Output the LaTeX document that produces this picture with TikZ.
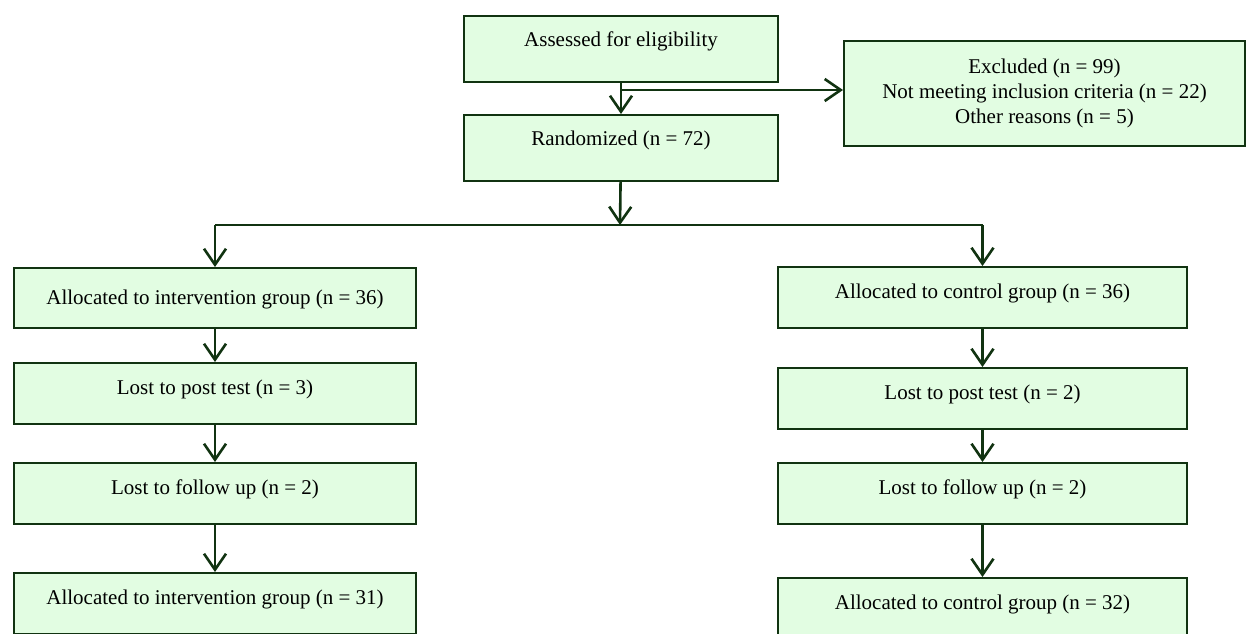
\documentclass[tikz,border=0pt]{standalone}
\usepackage{fontspec}
\setmainfont{Liberation Serif}
\usepackage{tikz}
\usetikzlibrary{positioning, arrows.meta}

\definecolor{boxfill}{HTML}{E2FDE2}
\definecolor{boxline}{HTML}{113311}

\begin{document}
\begin{tikzpicture}[
    x=0.5pt, y=-0.5pt,
    box/.style={
        draw=boxline,
        fill=boxfill,
        line width=1pt,
        rectangle,
        inner sep=0pt,
        align=center,
        font=\fontsize{10.5}{12.5}\selectfont
    },
    topbox/.style={
        box,
        minimum width=157pt,
        text height=15pt,
        text depth=18pt
    },
    leftbox/.style={
        box,
        minimum width=201pt,
        text height=15.5pt,
        text depth=15pt
    },
    rightbox/.style={
        leftbox,
        minimum width=204.5pt
    },
    arrow/.style={-{Straight Barb[length=8pt, width=11pt]}, draw=boxline, line width=1.3pt},
    splitline/.style={draw=boxline, line width=0.6pt}
]
\useasboundingbox (0,0) rectangle (1251,633);

% Enrolment
\node[topbox, anchor=north west] (assess) at (463,15) {Assessed for eligibility};
\node[topbox, below=15.5pt of assess] (random) {Randomized (n = 72)};
\node[box, anchor=north west, minimum width=200.5pt, minimum height=52.5pt] (excl) at (843,40)
    {Excluded (n = 99)\\Not meeting inclusion criteria (n = 22)\\Other reasons (n = 5)};

% Intervention arm
\node[leftbox, anchor=north west, text height=18.35pt, text depth=11.65pt] (int1) at (13,267)
    {Allocated to intervention group (n = 36)};
\node[leftbox, below=16.5pt of int1] (int2) {Lost to post test (n = 3)};
\node[leftbox, below=18.5pt of int2] (int3) {Lost to follow up (n = 2)};
\node[leftbox, below=23.5pt of int3] (int4) {Allocated to intervention group (n = 31)};

% Control arm
\node[rightbox, anchor=north west] (ctl1) at (777,266) {Allocated to control group (n = 36)};
\node[rightbox, below=19pt of ctl1] (ctl2) {Lost to post test (n = 2)};
\node[rightbox, below=16pt of ctl2] (ctl3) {Lost to follow up (n = 2)};
\node[rightbox, below=26pt of ctl3] (ctl4) {Allocated to control group (n = 32)};

% Split points
\coordinate (fork) at (620,90);
\coordinate (split) at (620,225);
\coordinate (splitL) at (int1.north |- split);
\coordinate (splitR) at (ctl1.north |- split);

% Top flow
\draw[arrow] (assess) -- (random);
\draw[arrow] (fork) -- (fork -| excl.west);
\draw[arrow] (random) -- (split);
\draw[splitline] (splitL) -- (splitR);
\draw[arrow] (splitL) -- (int1);
\draw[arrow] (splitR) -- (ctl1);

% Column flows
\draw[arrow] (int1) -- (int2);
\draw[arrow] (int2) -- (int3);
\draw[arrow] (int3) -- (int4);
\draw[arrow] (ctl1) -- (ctl2);
\draw[arrow] (ctl2) -- (ctl3);
\draw[arrow] (ctl3) -- (ctl4);

\end{tikzpicture}
\end{document}
